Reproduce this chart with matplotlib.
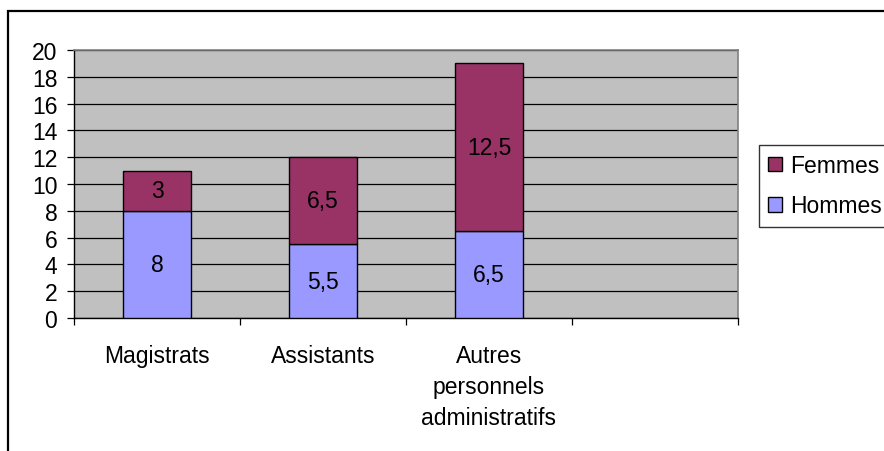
import matplotlib
matplotlib.use("Agg")
import matplotlib.pyplot as plt
from matplotlib.patches import Rectangle

categories = ["Magistrats", "Assistants", "Autres\npersonnels\nadministratifs", ""]
hommes = [8, 5.5, 6.5]
femmes = [3, 6.5, 12.5]
hommes_labels = ["8", "5,5", "6,5"]
femmes_labels = ["3", "6,5", "12,5"]
yticks = list(range(0, 21, 2))

plt.rcParams['font.family'] = ['Liberation Sans', 'DejaVu Sans']
FS = 16.5

fig = plt.figure(figsize=(8.84, 4.52), dpi=100)
W, H = 884, 452
ax = fig.add_axes([74 / W, 1 - 319 / H, (738 - 74) / W, (319 - 51) / H])

# outer frame
fig.patches.append(Rectangle((8 / W, -0.1), 1.2, 1 - 12 / H + 0.1, transform=fig.transFigure,
                             fill=False, edgecolor='black', linewidth=1.6, zorder=0))

ax.set_facecolor('#C0C0C0')
ax.set_xlim(-0.5, 3.5)
ax.set_ylim(0, 20)
ax.set_axisbelow(True)
ax.yaxis.grid(True, color='black', linewidth=0.9)
ax.set_yticks(yticks)
ax.set_yticklabels([str(v) for v in yticks], fontsize=FS)
ax.tick_params(axis='y', length=5, width=0.9, pad=7)

xs = list(range(len(hommes)))
bw = 0.415
ax.bar(xs, hommes, width=bw, color='#9999FF', edgecolor='black', linewidth=1.0, label='Hommes', zorder=3)
ax.bar(xs, femmes, width=bw, bottom=hommes, color='#993366', edgecolor='black', linewidth=1.0, label='Femmes', zorder=3)

for x, h, f, hl, fl in zip(xs, hommes, femmes, hommes_labels, femmes_labels):
    ax.text(x, h / 2, hl, ha='center', va='center', fontsize=FS, zorder=4)
    ax.text(x, h + f / 2, fl, ha='center', va='center', fontsize=FS, zorder=4)

ax.set_xticks([i - 0.5 for i in range(len(categories) + 1)])
ax.set_xticklabels([])
ax.tick_params(axis='x', which='major', length=5, width=0.9)
ax.set_xticks(range(len(categories)), minor=True)
ax.set_xticklabels(categories, minor=True, fontsize=FS, linespacing=1.42)
ax.tick_params(axis='x', which='minor', length=0, pad=19)

for s in ['top', 'right']:
    ax.spines[s].set_color('#808080')
    ax.spines[s].set_linewidth(1.2)
for s in ['left', 'bottom']:
    ax.spines[s].set_color('black')
    ax.spines[s].set_linewidth(1.0)

handles, labels = ax.get_legend_handles_labels()
leg = fig.legend(handles[::-1], labels[::-1], loc='upper left',
                 bbox_to_anchor=(759 / W, 1 - 146 / H), fontsize=FS,
                 frameon=True, fancybox=False, shadow=False,
                 handlelength=0.6, handleheight=0.6, handletextpad=0.35,
                 labelspacing=0.75, borderpad=0.4, borderaxespad=0)
leg.get_frame().set_edgecolor('black')
leg.get_frame().set_linewidth(1.0)

fig.savefig('out.png', dpi=100)
